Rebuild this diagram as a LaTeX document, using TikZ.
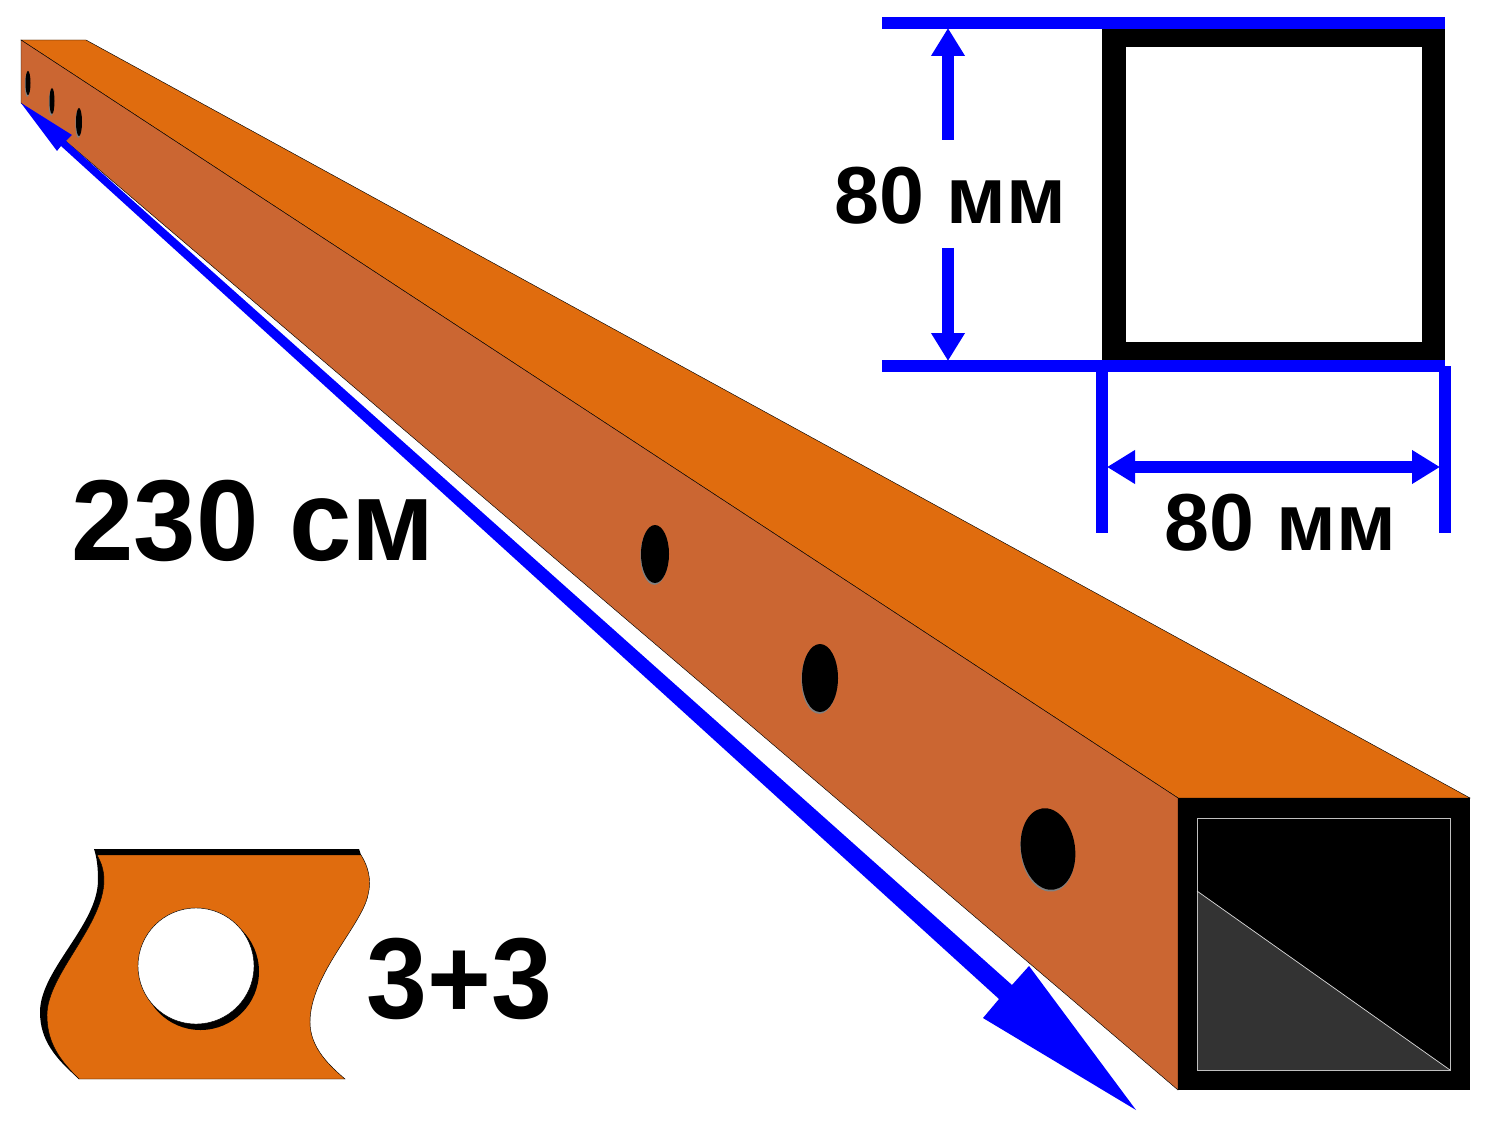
\documentclass[tikz,border=0pt]{standalone}
\usepackage{fontspec}
\setmainfont{Liberation Sans}
\usepackage{tikz}
\usetikzlibrary{arrows.meta}
\definecolor{beamtop}{HTML}{E06C0E}
\definecolor{beamside}{HTML}{CB6632}
\definecolor{dimblue}{HTML}{0000FF}
\tikzset{
  edgeline/.style={draw=black, line width=0.25pt},
  dimline/.style={draw=dimblue, line width=0.24cm},
  dimarrow/.style={dimline, -{Triangle[length=0.56cm,width=0.64cm]}},
  dimtwoway/.style={dimline, {Triangle[length=0.56cm,width=0.64cm]}-{Triangle[length=0.56cm,width=0.64cm]}},
  dimtext/.style={inner sep=0pt, anchor=base west, font=\fontsize{46pt}{46pt}\selectfont\bfseries},
  bigtext/.style={inner sep=0pt, anchor=base west, xscale=0.975, font=\fontsize{65.5pt}{65.5pt}\selectfont\bfseries}
}
\begin{document}
\begin{tikzpicture}[x=0.02cm,y=-0.02cm]
\useasboundingbox (0,0) rectangle (1500,1128);
% beam
\coordinate (a) at (21,40);
\coordinate (b) at (86,40);
\coordinate (c) at (1470,798);
\coordinate (d) at (1178,798);
\coordinate (e) at (1178,1090);
\coordinate (f) at (21,103);
\coordinate (g) at (1470,1090);
\fill[beamtop, edgeline] (a)--(b)--(c)--(d)--cycle;
\fill[beamside, edgeline] (a)--(d)--(e)--(f)--cycle;
\fill[black] (d)--(c)--(g)--(e)--cycle;
\fill[black!80] (1197,891)--(1450,1070)--(1197,1070)--cycle;
\draw[black!25, line width=0.5pt] (1197,818) rectangle (1450,1070);
\draw[black!15, line width=0.4pt] (1197,891)--(1450,1070);
% holes
\foreach \hx/\hy/\rx/\ry/\tilt in {28/83/2.5/12/0, 52/101/2.5/13/0, 79/122/3/14/0,
    655/554/14/29/0, 820/678/18/34/0, 1048/849/27/41/8}
{
  \fill[black!50, rotate around={\tilt:(\hx,\hy)}] (\hx-0.7,\hy+1.8) ellipse [x radius=\rx, y radius=\ry];
  \fill[black, rotate around={\tilt:(\hx,\hy)}] (\hx,\hy) ellipse [x radius=\rx, y radius=\ry];
}
% long arrow
\fill[dimblue] (f)--(72,135)--(66,141)--(1012,985)--(1029,966)--(1136,1110)--(983,1018)--(999,999)--(61,146)--(57,151)--cycle;
% section
\coordinate (p) at (1102,29);
\coordinate (q) at (1445,360);
\fill[black] (p) rectangle (q);
\fill[white] (1126,47) rectangle (1422,342);
\coordinate (t1) at (882,23);
\coordinate (t2) at (1445,23);
\coordinate (l1) at (882,366);
\coordinate (l2) at (1445,366);
\coordinate (v1) at (1102,366);
\coordinate (v2) at (1102,533);
\coordinate (w1) at (1445,366);
\coordinate (w2) at (1445,533);
\draw[dimline] (t1)--(t2);
\draw[dimline] (l1)--(l2);
\draw[dimline] (v1)--(v2);
\draw[dimline] (w1)--(w2);
\draw[dimarrow] (948,140)--(948,28);
\draw[dimarrow] (948,248)--(948,361);
\draw[dimtwoway] (1107,467)--(1440,467);
\node[dimtext] (heightlabel) at (834,224) {80 мм};
\node[dimtext] (widthlabel) at (1164,550) {80 мм};
\node[bigtext] (lengthlabel) at (71,560) {230 см};
% sample piece
\fill[black] (94,849)--(359,849)--(361,855)--(200,1000)--(79,1079)
  .. controls (55,1058) and (40,1040) .. (40,1012)
  .. controls (40,970) and (98,925) .. (98,880)
  .. controls (98,868) and (97,858) .. (94,849)--cycle;
\fill[beamtop, edgeline] (97,855)--(361,855)
  .. controls (368,866) and (372,880) .. (368,895)
  .. controls (362,925) and (310,975) .. (310,1022)
  .. controls (310,1048) and (330,1066) .. (345,1079)
  --(79,1079)
  .. controls (62,1062) and (47,1045) .. (47,1015)
  .. controls (47,975) and (104,925) .. (104,880)
  .. controls (104,870) and (101,862) .. (97,855)--cycle;
\fill[black] (200.5,971.5) circle (58.5);
\fill[white, edgeline] (196,966) circle (58);
\node[bigtext, xscale=0.975] (countlabel) at (366,1018) {3+3};
\end{tikzpicture}
\end{document}
